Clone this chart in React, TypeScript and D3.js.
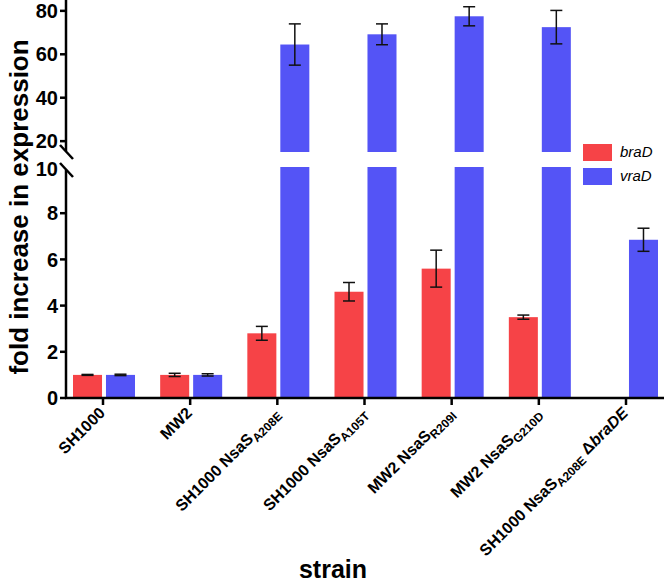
import * as d3 from 'd3';

// strain categories (x axis)
const strains = ['SH1000', 'MW2', 'SH1000 NsaS A208E', 'SH1000 NsaS A105T', 'MW2 NsaS R209I', 'MW2 NsaS G210D', 'SH1000 NsaS A208E dbraDE'];
const labelMain = ['SH1000', 'MW2', 'SH1000 NsaS', 'SH1000 NsaS', 'MW2 NsaS', 'MW2 NsaS', 'SH1000 NsaS'];
const labelSub = ['', '', 'A208E', 'A105T', 'R209I', 'G210D', 'A208E'];
const labelItalic = ['', '', '', '', '', '', 'braDE'];

const genes = ['braD', 'vraD'];
// mean fold increase, NaN = not measured
const braD = [1.0, 1.0, 2.8, 4.6, 5.6, 3.5, NaN];
const braDErr = [0.02, 0.07, 0.3, 0.4, 0.8, 0.09, NaN];
const vraD = [1.0, 1.0, 64.5, 69.2, 77.5, 72.5, 6.85];
const vraDErr = [0.03, 0.05, 9.5, 4.8, 4.4, 7.7, 0.5];

const lowTicks = [0, 2, 4, 6, 8, 10];
const highTicks = [20, 40, 60, 80];

const colors: Record<string, string> = { braD: '#f64347', vraD: '#5454f6' };

export default function App() {
  const W = 666;
  const H = 583;
  const axisX = 66;
  const baseY = 398;

  const yLow = d3.scaleLinear().domain([0, 10]).range([baseY, 167]);
  const yHigh = d3.scaleLinear().domain([15, 85]).range([152, 0]);
  const x = d3.scalePoint<string>().domain(strains).range([103, 626]);
  const xSub = d3.scaleBand<string>().domain(genes).range([-30, 32]).paddingInner(0.12);

  const font = "'Liberation Sans', Arial, Helvetica, sans-serif";
  const series = [
    { key: 'braD', vals: braD, errs: braDErr },
    { key: 'vraD', vals: vraD, errs: vraDErr },
  ];

  const yOf = (v: number) => (v <= 10 ? yLow(v) : yHigh(v));

  return (
    <svg width={W} height={H} style={{ position: 'absolute', left: 0, top: 0, background: '#fff' }} fontFamily={font}>
      {/* bars */}
      {series.map(s =>
        s.vals.map((v, i) => {
          if (isNaN(v)) return null;
          const bx = (x(strains[i]) as number) + (xSub(s.key) as number);
          const bw = xSub.bandwidth();
          if (v <= 10) {
            return <rect key={s.key + i} x={bx} y={yLow(v)} width={bw} height={baseY - yLow(v)} fill={colors[s.key]} />;
          }
          return (
            <g key={s.key + i}>
              <rect x={bx} y={yLow(10)} width={bw} height={baseY - yLow(10)} fill={colors[s.key]} />
              <rect x={bx} y={yHigh(v)} width={bw} height={yHigh(15) - yHigh(v)} fill={colors[s.key]} />
            </g>
          );
        })
      )}
      {/* error bars */}
      {series.map(s =>
        s.vals.map((v, i) => {
          if (isNaN(v)) return null;
          const cx = (x(strains[i]) as number) + (xSub(s.key) as number) + xSub.bandwidth() / 2;
          const e = s.errs[i];
          const y1 = yOf(v + e);
          const y2 = yOf(v - e);
          return (
            <g key={'e' + s.key + i} stroke="#111" strokeWidth={1.5}>
              <line x1={cx} x2={cx} y1={y1} y2={y2} />
              <line x1={cx - 6} x2={cx + 6} y1={y1} y2={y1} />
              <line x1={cx - 6} x2={cx + 6} y1={y2} y2={y2} />
            </g>
          );
        })
      )}

      {/* y axis, two segments with break */}
      <g stroke="#000" strokeWidth={2.5}>
        <line x1={axisX} x2={axisX} y1={0} y2={151} />
        <line x1={axisX} x2={axisX} y1={170} y2={baseY + 1} />
        <line x1={axisX - 6} x2={axisX + 7} y1={145} y2={159} />
        <line x1={axisX - 6} x2={axisX + 7} y1={163} y2={177} />
        {highTicks.map(t => (
          <line key={'h' + t} x1={axisX - 6} x2={axisX} y1={yHigh(t)} y2={yHigh(t)} />
        ))}
        {lowTicks.filter(t => t < 10).map(t => (
          <line key={'l' + t} x1={axisX - 6} x2={axisX} y1={yLow(t)} y2={yLow(t)} />
        ))}
        {/* x axis */}
        <line x1={axisX - 1} x2={664} y1={baseY} y2={baseY} />
        {strains.map(s => (
          <line key={'xt' + s} x1={x(s)} x2={x(s)} y1={baseY} y2={baseY + 7} />
        ))}
      </g>
      <g fontSize={20} fontWeight="bold" textAnchor="end" fill="#000">
        {highTicks.map(t => (
          <text key={'ht' + t} x={axisX - 8} y={yHigh(t)} dy="0.36em">{t}</text>
        ))}
        {lowTicks.map(t => (
          <text key={'lt' + t} x={axisX - 8} y={t === 10 ? 169 : yLow(t)} dy="0.36em">{t}</text>
        ))}
      </g>

      {/* x tick labels */}
      <g fontSize={16} fontWeight="bold" textAnchor="end" fill="#000">
        {strains.map((s, i) => (
          <text key={'xl' + s} transform={`translate(${(x(s) as number) + 3},${414}) rotate(-45)`}>
            {labelMain[i]}
            {labelSub[i] && <tspan fontSize={12} dy={4}>{labelSub[i]}</tspan>}
            {labelItalic[i] && (
              <>
                <tspan dy={-4}> Δ</tspan>
                <tspan fontStyle="italic">{labelItalic[i]}</tspan>
              </>
            )}
          </text>
        ))}
      </g>

      {/* axis titles */}
      <text transform={`translate(28,207) rotate(-90)`} textAnchor="middle" fontSize={26} fontWeight="bold">
        fold increase in expression
      </text>
      <text x={333} y={578} textAnchor="middle" fontSize={25} fontWeight="bold">strain</text>

      {/* legend */}
      {genes.map((g, i) => (
        <g key={'lg' + g} transform={`translate(583,${144 + i * 24})`}>
          <rect width={29} height={17} fill={colors[g]} />
          <text x={37} y={13} fontSize={15} fontStyle="italic">{g}</text>
        </g>
      ))}
    </svg>
  );
}
